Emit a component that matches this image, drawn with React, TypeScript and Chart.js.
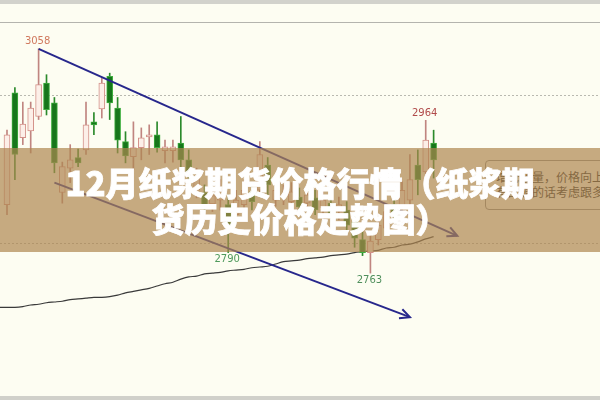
import React, { useEffect, useRef } from "react";
import { Chart, registerables } from "chart.js";

Chart.register(...registerables);

// ---- data ----
const candleIndex = Array.from({ length: 55 }, (_, i) => i);
const opens = [2853, 3000, 2941, 2950, 2969, 3013, 2987, 2869, 2901, 2915, 2925, 2962, 2979, 3022, 2980, 2936, 2916, 2928, 2942, 2945, 2924, 2924, 2934, 2912, 2872, 2869, 2854, 2859, 2853, 2840, 2853, 2870, 2872, 2905, 2859, 2863, 2857, 2863, 2855, 2862, 2849, 2855, 2844, 2846, 2830, 2807, 2790, 2807, 2822, 2853, 2849, 2859, 2905, 2896, 2934];
const highs = [2951, 3007, 2988, 2988, 3058, 3024, 2994, 2909, 2932, 2926, 2988, 2974, 3020, 3026, 2994, 2949, 2962, 2954, 2958, 2962, 2938, 2938, 2969, 2925, 2901, 2879, 2875, 2886, 2866, 2872, 2886, 2882, 2936, 2915, 2886, 2879, 2882, 2875, 2875, 2872, 2870, 2865, 2863, 2857, 2840, 2817, 2817, 2836, 2853, 2862, 2883, 2919, 2925, 2964, 2951];
const lows = [2840, 2886, 2932, 2921, 2965, 2971, 2895, 2855, 2882, 2903, 2919, 2945, 2967, 2965, 2921, 2908, 2899, 2912, 2919, 2922, 2908, 2909, 2899, 2886, 2862, 2844, 2844, 2846, 2790, 2830, 2844, 2846, 2866, 2866, 2851, 2853, 2849, 2844, 2846, 2840, 2840, 2830, 2833, 2820, 2797, 2786, 2763, 2800, 2817, 2830, 2844, 2853, 2866, 2879, 2888];
const closes = [2945, 2919, 2959, 2980, 3011, 2978, 2908, 2903, 2912, 2908, 2958, 2958, 3013, 2987, 2938, 2917, 2928, 2941, 2945, 2928, 2929, 2929, 2912, 2896, 2888, 2853, 2865, 2872, 2822, 2859, 2872, 2857, 2919, 2879, 2872, 2866, 2870, 2850, 2866, 2846, 2859, 2840, 2853, 2826, 2809, 2790, 2805, 2826, 2844, 2840, 2872, 2886, 2886, 2938, 2912];
const maIndex = [-1, ...candleIndex];
const maValues = [2718, 2718, 2718, 2719, 2721, 2722, 2724, 2725, 2726, 2728, 2729, 2730, 2731, 2731, 2732, 2734, 2737, 2739, 2741, 2743, 2746, 2749, 2751, 2755, 2758, 2759, 2762, 2763, 2764, 2766, 2767, 2768, 2770, 2771, 2772, 2775, 2778, 2779, 2780, 2782, 2783, 2784, 2786, 2787, 2788, 2790, 2791, 2792, 2793, 2796, 2797, 2800, 2801, 2804, 2808, 2811];

const upperTrendIdx = [4, 57];
const upperTrendPrice = [3058, 2812];
const lowerTrendIdx = [6, 51];
const lowerTrendPrice = [2882, 2705];

const markIdx = [4, 53, 28, 46];
const markPrice = [3058, 2964, 2790, 2763];
const markSide = ["high", "high", "low", "low"];
const markColor = ["#d0795e", "#b04a4a", "#4f9a5c", "#4f8f5c"];

const gridLevels = [2997, 2803];

const titleLines = ["12月纸浆期货价格行情（纸浆期", "货历史价格走势图）"];
const noteLines = ["增仓放量，价格向上", "有回调的话考虑跟多"];

// ---- styles ----
const UP_FILL = "#fcefe8";
const UP_BORDER = "#d39088";
const UP_WICK = "#c08580";
const DN_FILL = "#17761b";
const DN_BORDER = "#3fae3f";
const DN_WICK = "#2b8a2b";
const TREND = "#27278c";

const overlayPlugin = {
  id: "overlayPlugin",
  beforeDatasetsDraw(chart: any) {
    const { ctx, chartArea, scales } = chart;
    ctx.save();
    ctx.strokeStyle = "#b9b9b0";
    ctx.lineWidth = 1;
    ctx.setLineDash([2, 2]);
    gridLevels.forEach((v) => {
      const y = Math.round(scales.y.getPixelForValue(v)) + 0.5;
      ctx.beginPath();
      ctx.moveTo(chartArea.left, y);
      ctx.lineTo(chartArea.right, y);
      ctx.stroke();
    });
    ctx.restore();
  },
  afterDatasetsDraw(chart: any) {
    const { ctx, scales } = chart;
    ctx.save();
    chart.data.datasets.forEach((ds: any, k: number) => {
      if (!ds.isTrend) return;
      const pts = chart.getDatasetMeta(k).data;
      const a = pts[pts.length - 2];
      const b = pts[pts.length - 1];
      const ang = Math.atan2(b.y - a.y, b.x - a.x);
      const len = 11;
      ctx.strokeStyle = TREND;
      ctx.lineWidth = 2;
      ctx.beginPath();
      ctx.moveTo(b.x - len * Math.cos(ang - 0.45), b.y - len * Math.sin(ang - 0.45));
      ctx.lineTo(b.x, b.y);
      ctx.lineTo(b.x - len * Math.cos(ang + 0.45), b.y - len * Math.sin(ang + 0.45));
      ctx.stroke();
    });
    ctx.font = "10px 'DejaVu Sans', sans-serif";
    ctx.textAlign = "center";
    markIdx.forEach((idx, j) => {
      const x = scales.x.getPixelForValue(idx) - 1;
      const y = scales.y.getPixelForValue(markPrice[j]);
      ctx.fillStyle = markColor[j];
      if (markSide[j] === "high") {
        ctx.textBaseline = "bottom";
        ctx.fillText(String(markPrice[j]), x, y - 2);
      } else {
        ctx.textBaseline = "top";
        ctx.fillText(String(markPrice[j]), x, y + 2);
      }
    });
    ctx.restore();
  },
};

export default function App() {
  const canvasRef = useRef<HTMLCanvasElement | null>(null);

  useEffect(() => {
    const canvas = canvasRef.current;
    if (!canvas) return;
    const isUp = candleIndex.map((i) => closes[i] >= opens[i]);
    const chart = new Chart(canvas, {
      type: "bar",
      data: {
        datasets: [
          {
            type: "line",
            label: "upper",
            isTrend: true,
            data: upperTrendIdx.map((x, j) => ({ x, y: upperTrendPrice[j] })),
            borderColor: TREND,
            borderWidth: 2,
            pointRadius: 0,
            order: 0,
          } as any,
          {
            type: "line",
            label: "lower",
            isTrend: true,
            data: lowerTrendIdx.map((x, j) => ({ x, y: lowerTrendPrice[j] })),
            borderColor: TREND,
            borderWidth: 2,
            pointRadius: 0,
            order: 0,
          } as any,
          {
            type: "bar",
            label: "body",
            data: candleIndex.map((i) => ({ x: i, y: [opens[i], closes[i]] })),
            backgroundColor: candleIndex.map((i) => (isUp[i] ? UP_FILL : DN_FILL)),
            borderColor: candleIndex.map((i) => (isUp[i] ? UP_BORDER : DN_BORDER)),
            borderWidth: 1,
            borderSkipped: false,
            barThickness: 6,
            minBarLength: 2,
            grouped: false,
            order: 1,
          } as any,
          {
            type: "bar",
            label: "wick",
            data: candleIndex.map((i) => ({ x: i, y: [lows[i], highs[i]] })),
            backgroundColor: candleIndex.map((i) => (isUp[i] ? UP_WICK : DN_WICK)),
            borderWidth: 0,
            barThickness: 1,
            grouped: false,
            order: 2,
          } as any,
          {
            type: "line",
            label: "MA",
            data: maIndex.map((x, j) => ({ x, y: maValues[j] })),
            borderColor: "#3a3a3a",
            borderWidth: 1.2,
            pointRadius: 0,
            tension: 0.3,
            order: 3,
          } as any,
        ],
      },
      options: {
        responsive: false,
        animation: false,
        layout: { padding: { top: 23, bottom: 3, left: 0, right: 0 } },
        plugins: { legend: { display: false }, tooltip: { enabled: false } },
        scales: {
          x: { type: "linear", min: -0.886, max: 75.06, offset: false, bounds: "ticks", display: false },
          y: { type: "linear", min: 2600, max: 3092, display: false },
        },
      } as any,
      plugins: [overlayPlugin],
    });
    return () => chart.destroy();
  }, []);

  return (
    <div
      style={{
        position: "fixed",
        left: 0,
        top: 0,
        width: 600,
        height: 400,
        overflow: "hidden",
        background: "#fdfdf2",
      }}
    >
      <div style={{ position: "absolute", left: 0, top: 0, width: 600, height: 4, background: "#d2d2cc" }} />
      <div style={{ position: "absolute", left: 0, top: 22, width: 600, height: 1, background: "#b4b4ae" }} />
      <div style={{ position: "absolute", left: 0, top: 396, width: 600, height: 4, background: "#d0d0ca" }} />
      <canvas ref={canvasRef} width={600} height={400} style={{ position: "absolute", left: 0, top: 0, width: 600, height: 400 }} />
      <div
        style={{
          position: "absolute",
          left: 485,
          top: 160,
          width: 140,
          height: 50,
          boxSizing: "border-box",
          border: "1px solid #8c8c86",
          borderRadius: 4,
          background: "#fdfdf2",
          padding: "8px 0 0 10px",
          fontFamily: "'Noto Sans CJK SC', sans-serif",
          fontSize: 12,
          lineHeight: "15px",
          color: "#222",
          whiteSpace: "nowrap",
        }}
      >
        {noteLines.map((t, k) => (
          <div key={k}>{t}</div>
        ))}
      </div>
      <div
        style={{
          position: "absolute",
          left: 0,
          top: 148,
          width: 600,
          height: 104,
          background: "rgba(174,134,80,0.7)",
          display: "flex",
          flexDirection: "column",
          alignItems: "center",
          justifyContent: "center",
          color: "#ffffff",
          fontFamily: "'Noto Sans CJK SC', sans-serif",
          fontWeight: 900,
          fontSize: 33,
          lineHeight: "36px",
          WebkitTextStroke: "0.8px #ffffff",
          whiteSpace: "nowrap",
        }}
      >
        {titleLines.map((t, k) => (
          <div key={k}>{t}</div>
        ))}
      </div>
    </div>
  );
}
